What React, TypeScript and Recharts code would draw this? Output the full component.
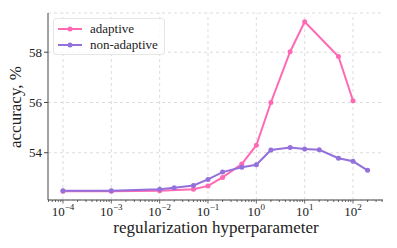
import { LineChart, Line, XAxis, YAxis, CartesianGrid, ReferenceLine } from "recharts";

const xNonAdaptive = [1e-4, 1e-3, 1e-2, 2e-2, 5e-2, 0.1, 0.2, 0.5, 1, 2, 5, 10, 20, 50, 100, 200];
const nonAdaptive = [52.49, 52.49, 52.55, 52.61, 52.7, 52.94, 53.23, 53.42, 53.52, 54.11, 54.21, 54.15, 54.12, 53.78, 53.66, 53.3];

const xAdaptive = [1e-4, 1e-3, 1e-2, 5e-2, 0.1, 0.2, 0.5, 1, 2, 5, 10, 50, 100];
const adaptive = [52.47, 52.47, 52.49, 52.55, 52.68, 53.02, 53.55, 54.3, 56.0, 58.02, 59.21, 57.83, 56.07];

const decades = [-4, -3, -2, -1, 0, 1, 2];
const yTicks = [54, 56, 58];

const PINK = "#ff69b4";
const PURPLE = "#9370db";
const FONT = "'Liberation Serif', 'DejaVu Serif', serif";

const adaptiveData = xAdaptive.map((x, i) => ({ x, y: adaptive[i] }));
const nonAdaptiveData = xNonAdaptive.map((x, i) => ({ x, y: nonAdaptive[i] }));

// majors plus log minor ticks (2..9 per decade) inside the domain
const xMin = 4.9e-5;
const xMax = 417;
const xTicks: number[] = [];
for (let d = -5; d <= 2; d++) {
  for (let m = 1; m <= 9; m++) {
    const v = m * Math.pow(10, d);
    if (v >= xMin && v <= xMax) xTicks.push(v);
  }
}

const isMajor = (v: number) => Math.abs(Math.log10(v) - Math.round(Math.log10(v))) < 1e-6;

const XTick = (props: any) => {
  const { x, y, payload } = props;
  const v = payload.value;
  const major = isMajor(v);
  const exp = Math.round(Math.log10(v));
  return (
    <g>
      <line x1={x} x2={x} y1={y} y2={y + (major ? 3.5 : 2)} stroke="#444" strokeWidth={0.8} />
      {major && (
        <text x={x} y={y + 16} textAnchor="middle" fontSize={13} fontFamily={FONT} fill="#222">
          <tspan>10</tspan>
          <tspan dy={-6} fontSize={9}>{exp < 0 ? "\u2212" + Math.abs(exp) : String(exp)}</tspan>
        </text>
      )}
    </g>
  );
};

const series = [
  { name: "adaptive", color: PINK },
  { name: "non-adaptive", color: PURPLE },
];

export default function App() {
  return (
    <div style={{ margin: -8, width: 397, height: 248, background: "#fff", position: "relative" }}>
      <LineChart width={397} height={248} margin={{ top: 13, right: 14, bottom: 0, left: 0 }}>
        <CartesianGrid vertical={false} stroke="#dcdcdc" strokeDasharray="3 3" />
        {decades.map((d) => (
          <ReferenceLine key={d} x={Math.pow(10, d)} stroke="#dcdcdc" strokeDasharray="3 3" />
        ))}
        <XAxis
          dataKey="x"
          type="number"
          scale="log"
          domain={[xMin, xMax]}
          allowDataOverflow
          ticks={xTicks}
          interval={0}
          tickLine={false}
          tickSize={0}
          tickMargin={0}
          tick={<XTick />}
          height={48}
          stroke="#444"
          label={{
            content: () => (
              <text x={216} y={233} textAnchor="middle" fontSize={17} fontFamily={FONT} fill="#222">
                regularization hyperparameter
              </text>
            ),
          }}
        />
        <YAxis
          type="number"
          domain={[52.12, 59.56]}
          allowDataOverflow
          ticks={yTicks}
          width={48}
          stroke="#444"
          tickSize={4}
          tick={{ fontSize: 13, fontFamily: FONT, fill: "#222" }}
          label={{
            content: () => (
              <text
                x={21}
                y={107}
                textAnchor="middle"
                fontSize={17}
                fontFamily={FONT}
                fill="#222"
                transform="rotate(-90 21 107)"
              >
                accuracy, %
              </text>
            ),
          }}
        />
        <Line
          data={adaptiveData}
          dataKey="y"
          name="adaptive"
          stroke={PINK}
          strokeWidth={2}
          dot={{ r: 2.5, fill: PINK, stroke: PINK, strokeWidth: 0 }}
          isAnimationActive={false}
        />
        <Line
          data={nonAdaptiveData}
          dataKey="y"
          name="non-adaptive"
          stroke={PURPLE}
          strokeWidth={2}
          dot={{ r: 2.5, fill: PURPLE, stroke: PURPLE, strokeWidth: 0 }}
          isAnimationActive={false}
        />
      </LineChart>
      <div
        style={{
          position: "absolute",
          left: 53,
          top: 18,
          border: "1px solid #e6e6e6",
          borderRadius: 3,
          background: "rgba(255,255,255,0.8)",
          padding: "2px 6px 1px 3px",
          fontFamily: FONT,
          fontSize: 13,
          color: "#222",
          whiteSpace: "nowrap",
        }}
      >
        {series.map((item) => (
          <div key={item.name} style={{ display: "flex", alignItems: "center", height: 16 }}>
            <svg width={26} height={10}>
              <line x1={1} x2={25} y1={5} y2={5} stroke={item.color} strokeWidth={2} />
              <circle cx={13} cy={5} r={2.5} fill={item.color} />
            </svg>
            <span style={{ marginLeft: 7 }}>{item.name}</span>
          </div>
        ))}
      </div>
    </div>
  );
}
